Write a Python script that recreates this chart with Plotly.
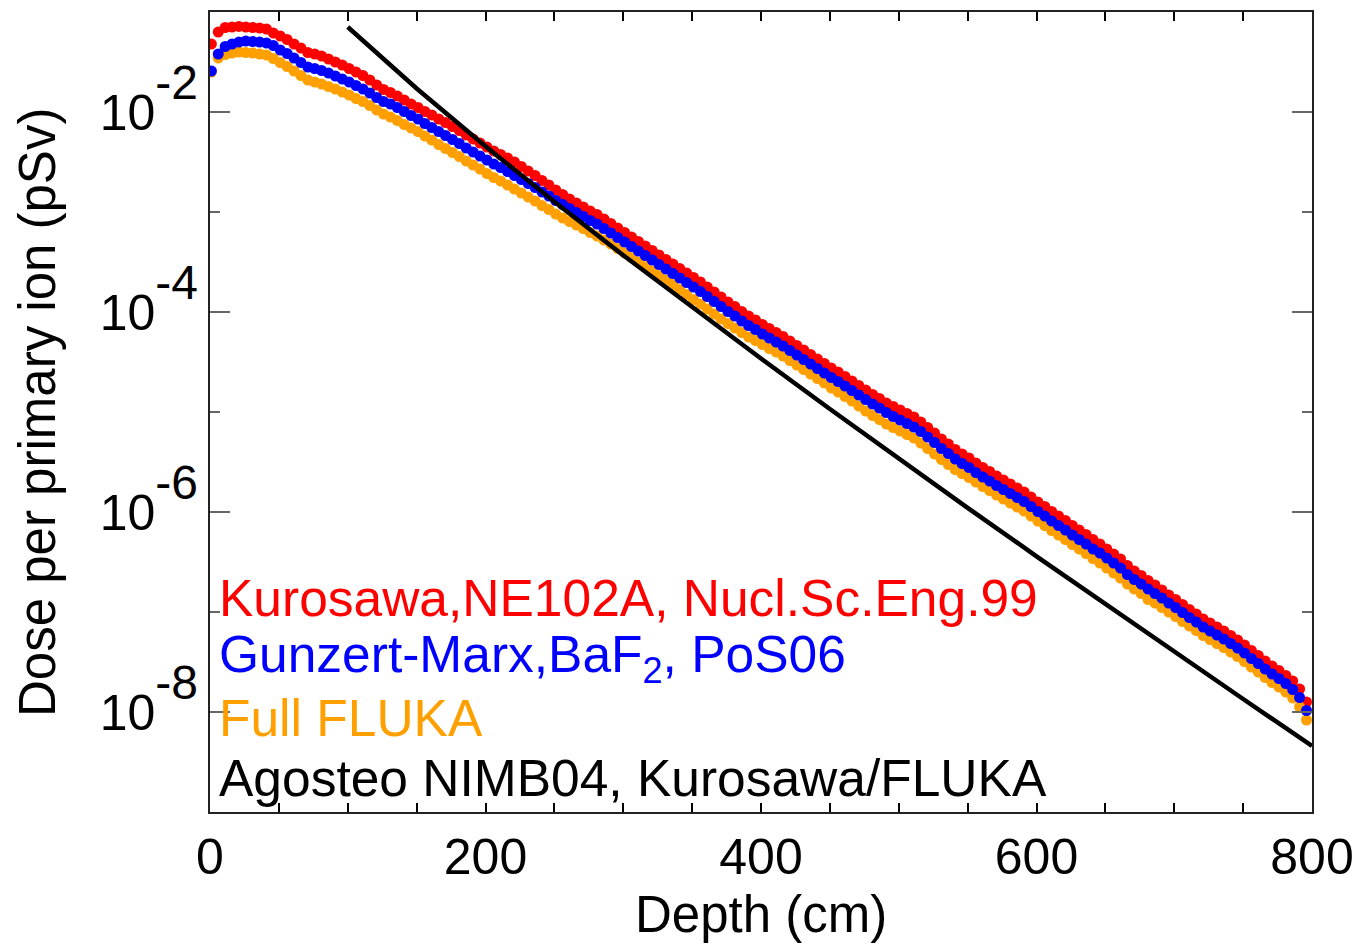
import plotly.graph_objects as go

# ---------------- data ----------------
depth_cm = list(range(1, 800, 5))  # 160 bins, 5 cm apart

red_log10 = [
    -1.32, -1.20, -1.155, -1.15, -1.144, -1.15, -1.155, -1.16, -1.17, -1.21,
    -1.24, -1.275, -1.32, -1.36, -1.405, -1.42, -1.44, -1.47, -1.50, -1.53,
    -1.565, -1.60, -1.635, -1.68, -1.73, -1.775, -1.805, -1.84, -1.88, -1.92,
    -1.955, -1.995, -2.03, -2.07, -2.105, -2.145, -2.185, -2.23, -2.27, -2.31,
    -2.35, -2.39, -2.425, -2.46, -2.50, -2.545, -2.59, -2.635, -2.685, -2.73,
    -2.78, -2.825, -2.87, -2.91, -2.95, -2.99, -3.025, -3.07, -3.115, -3.16,
    -3.205, -3.25, -3.295, -3.34, -3.385, -3.43, -3.475, -3.52, -3.565, -3.61,
    -3.655, -3.70, -3.75, -3.80, -3.85, -3.90, -3.945, -3.995, -4.04, -4.08,
    -4.125, -4.165, -4.205, -4.245, -4.29, -4.335, -4.38, -4.425, -4.47, -4.515,
    -4.56, -4.60, -4.645, -4.69, -4.735, -4.78, -4.825, -4.865, -4.91, -4.945,
    -4.98, -5.015, -5.05, -5.10, -5.155, -5.21, -5.27, -5.32, -5.375, -5.42,
    -5.46, -5.51, -5.555, -5.595, -5.64, -5.68, -5.72, -5.76, -5.80, -5.85,
    -5.90, -5.945, -5.995, -6.04, -6.085, -6.135, -6.18, -6.225, -6.275, -6.32,
    -6.37, -6.42, -6.47, -6.535, -6.59, -6.635, -6.685, -6.73, -6.78, -6.83,
    -6.875, -6.925, -6.975, -7.02, -7.07, -7.11, -7.15, -7.19, -7.235, -7.28,
    -7.33, -7.385, -7.435, -7.49, -7.54, -7.585, -7.635, -7.69, -7.77, -7.90,
]

blue_log10 = [
    -1.59, -1.42, -1.345, -1.32, -1.30, -1.29, -1.295, -1.30, -1.31, -1.335,
    -1.38, -1.415, -1.46, -1.505, -1.55, -1.565, -1.585, -1.61, -1.64, -1.67,
    -1.70, -1.735, -1.77, -1.81, -1.855, -1.895, -1.92, -1.955, -1.995, -2.035,
    -2.07, -2.115, -2.155, -2.195, -2.235, -2.275, -2.315, -2.36, -2.40, -2.44,
    -2.48, -2.52, -2.555, -2.595, -2.635, -2.675, -2.715, -2.755, -2.80, -2.84,
    -2.885, -2.925, -2.965, -3.005, -3.045, -3.085, -3.12, -3.165, -3.21, -3.255,
    -3.30, -3.345, -3.39, -3.435, -3.48, -3.525, -3.57, -3.615, -3.66, -3.705,
    -3.75, -3.795, -3.845, -3.895, -3.945, -3.995, -4.04, -4.09, -4.135, -4.175,
    -4.22, -4.26, -4.30, -4.34, -4.385, -4.43, -4.475, -4.52, -4.565, -4.61,
    -4.655, -4.695, -4.74, -4.785, -4.83, -4.875, -4.92, -4.96, -5.005, -5.045,
    -5.08, -5.115, -5.15, -5.195, -5.25, -5.305, -5.365, -5.415, -5.47, -5.515,
    -5.555, -5.605, -5.65, -5.69, -5.735, -5.775, -5.815, -5.855, -5.895, -5.945,
    -5.995, -6.04, -6.09, -6.135, -6.18, -6.23, -6.275, -6.32, -6.37, -6.41,
    -6.46, -6.51, -6.56, -6.625, -6.675, -6.72, -6.77, -6.815, -6.86, -6.91,
    -6.955, -7.005, -7.055, -7.10, -7.15, -7.19, -7.23, -7.27, -7.315, -7.36,
    -7.41, -7.465, -7.515, -7.57, -7.62, -7.665, -7.715, -7.775, -7.855, -7.985,
]

orange_log10 = [
    -1.60, -1.46, -1.425, -1.41, -1.40, -1.405, -1.41, -1.42, -1.43, -1.465,
    -1.505, -1.545, -1.59, -1.635, -1.68, -1.70, -1.72, -1.745, -1.77, -1.80,
    -1.83, -1.865, -1.895, -1.935, -1.98, -2.02, -2.05, -2.085, -2.125, -2.16,
    -2.195, -2.24, -2.28, -2.325, -2.365, -2.405, -2.445, -2.49, -2.53, -2.57,
    -2.615, -2.655, -2.69, -2.73, -2.77, -2.81, -2.85, -2.89, -2.935, -2.975,
    -3.02, -3.06, -3.095, -3.13, -3.165, -3.205, -3.24, -3.28, -3.32, -3.365,
    -3.41, -3.455, -3.50, -3.545, -3.59, -3.635, -3.68, -3.725, -3.775, -3.825,
    -3.875, -3.92, -3.97, -4.02, -4.07, -4.115, -4.16, -4.205, -4.25, -4.285,
    -4.325, -4.365, -4.40, -4.44, -4.485, -4.53, -4.575, -4.62, -4.665, -4.71,
    -4.76, -4.80, -4.845, -4.89, -4.94, -4.99, -5.035, -5.075, -5.12, -5.155,
    -5.19, -5.225, -5.26, -5.31, -5.365, -5.42, -5.475, -5.525, -5.575, -5.615,
    -5.655, -5.70, -5.745, -5.785, -5.83, -5.87, -5.91, -5.95, -5.99, -6.04,
    -6.09, -6.135, -6.185, -6.23, -6.275, -6.325, -6.37, -6.415, -6.465, -6.51,
    -6.56, -6.61, -6.66, -6.72, -6.77, -6.815, -6.875, -6.91, -6.955, -7.0,
    -7.045, -7.095, -7.14, -7.185, -7.235, -7.275, -7.315, -7.355, -7.40, -7.445,
    -7.495, -7.55, -7.60, -7.655, -7.705, -7.75, -7.80, -7.86, -7.95, -8.08,
]

agosteo_depth_cm = [100, 150, 200, 250, 300, 350, 400, 450, 500, 550, 600, 650, 700, 750, 800]
agosteo_log10 = [-1.15, -1.765, -2.343, -2.898, -3.433, -3.953, -4.465, -4.970,
                 -5.468, -5.958, -6.443, -6.923, -7.398, -7.870, -8.34]

series_labels = [
    "Kurosawa,NE102A, Nucl.Sc.Eng.99",
    "Gunzert-Marx,BaF<sub>2</sub>, PoS06",
    "Full FLUKA",
    "Agosteo NIMB04, Kurosawa/FLUKA",
]
series_colors = ["#ff0000", "#0000ff", "#ffa000", "#000000"]

y_major_vals = [1e-8, 1e-6, 1e-4, 1e-2]
y_major_exp = ["-8", "-6", "-4", "-2"]
y_minor_vals = [1e-9, 1e-7, 1e-5, 1e-3, 1e-1]
x_tick_vals = [0, 200, 400, 600, 800]

FONT = "Arial, 'Liberation Sans', sans-serif"

# ---------------- figure ----------------
def to_val(lst):
    return [10 ** v for v in lst]

y_major_text = ["10<sup><span style='font-size:48px;baseline-shift:10px'>%s</span></sup>" % e
                for e in y_major_exp]

MS = 11
fig = go.Figure()
fig.add_trace(go.Scatter(x=depth_cm, y=to_val(red_log10), mode="markers",
                         marker=dict(color=series_colors[0], size=MS, line=dict(width=0)),
                         name="red", showlegend=False))
fig.add_trace(go.Scatter(x=depth_cm, y=to_val(orange_log10), mode="markers",
                         marker=dict(color=series_colors[2], size=MS, line=dict(width=0)),
                         name="orange", showlegend=False))
fig.add_trace(go.Scatter(x=depth_cm, y=to_val(blue_log10), mode="markers",
                         marker=dict(color=series_colors[1], size=MS, line=dict(width=0)),
                         name="blue", showlegend=False))
fig.add_trace(go.Scatter(x=agosteo_depth_cm, y=to_val(agosteo_log10), mode="lines",
                         line=dict(color="black", width=4.5), name="black",
                         showlegend=False))

legend_y = [0.268, 0.193, 0.118, 0.042]
for txt, col, yy in zip(series_labels, series_colors, legend_y):
    fig.add_annotation(text=txt, xref="paper", yref="paper", x=0.006, y=yy,
                       xanchor="left", yanchor="middle", showarrow=False,
                       font=dict(family=FONT, size=51.5, color=col))

fig.add_annotation(text="Dose per primary ion (pSv)", xref="paper", yref="paper",
                   x=-0.157, y=0.5, textangle=-90, xanchor="center", yanchor="middle",
                   showarrow=False, font=dict(family=FONT, size=51, color="black"))
fig.add_annotation(text="Depth (cm)", xref="paper", yref="paper",
                   x=0.5, y=-0.128, xanchor="center", yanchor="middle",
                   showarrow=False, font=dict(family=FONT, size=51, color="black"))

fig.update_layout(
    width=1364, height=949, autosize=False,
    margin=dict(l=210, r=49, t=10, b=137),
    paper_bgcolor="white", plot_bgcolor="white",
    font=dict(family=FONT, size=50, color="black"),
    showlegend=False,
)
fig.update_xaxes(
    range=[0, 800], tickmode="array", tickvals=x_tick_vals,
    ticks="inside", ticklen=9, tickwidth=1.5, tickcolor="black",
    minor=dict(dtick=50, ticks="inside", ticklen=9, tickwidth=1.5, tickcolor="black", showgrid=False),
    showline=True, linecolor="#222", linewidth=2, mirror="ticks",
    showgrid=False, zeroline=False,
    tickfont=dict(family=FONT, size=50, color="black"),
)
fig.update_yaxes(
    type="log", range=[-9, -1], tickmode="array",
    tickvals=y_major_vals, ticktext=y_major_text,
    ticks="inside", ticklen=20, tickwidth=1.5, tickcolor="#666",
    minor=dict(tickmode="array", tickvals=y_minor_vals, ticks="inside", ticklen=10,
               tickwidth=1.5, tickcolor="#666", showgrid=False),
    showline=True, linecolor="#222", linewidth=2, mirror="ticks",
    showgrid=False, zeroline=False,
    tickfont=dict(family=FONT, size=50, color="black"),
)

fig.write_html("out.html")
